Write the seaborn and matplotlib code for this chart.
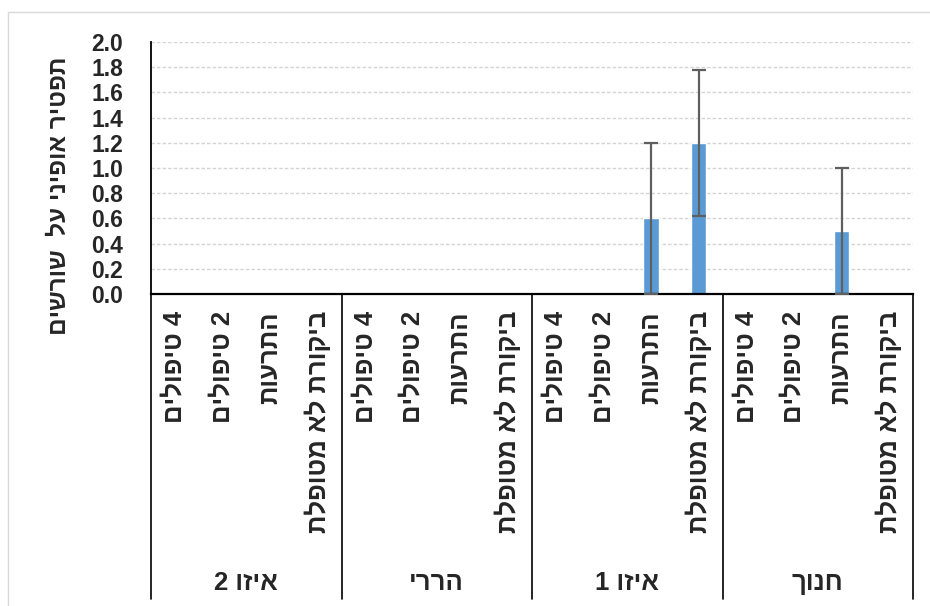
import numpy as np
import pandas as pd
import seaborn as sns
import matplotlib.pyplot as plt
from matplotlib import transforms
from matplotlib.patches import Rectangle

# data (logical Hebrew order)
groups = ['איזו 2', 'הררי', 'איזו 1', 'חנוך']
treatments = ['4 טיפולים', '2 טיפולים', 'התרעות', 'ביקורת לא מטופלת']
values = [0, 0, 0, 0,
          0, 0, 0, 0,
          0, 0, 0.6, 1.2,
          0, 0, 0.5, 0]
errors = [0, 0, 0, 0,
          0, 0, 0, 0,
          0, 0, 0.6, 0.58,
          0, 0, 0.5, 0]
y_label = 'תפטיר אופיני על  שורשים'


def rtl(s):
    # matplotlib has no bidi, so feed the visual order
    return s[::-1]


rows = []
for g in groups:
    for t in treatments:
        rows.append({'group': g, 'treat': t, 'key': g + '|' + t})
df = pd.DataFrame(rows)
df['value'] = values
df['err'] = errors

sns.set_style('white')
plt.rcParams['font.family'] = ['Liberation Sans', 'DejaVu Sans']
plt.rcParams['font.weight'] = 'bold'

W, H = 930, 606
fig = plt.figure(figsize=(W / 100, H / 100), dpi=100)
ax = fig.add_axes([151 / W, 1 - 294 / H, (913 - 151) / W, (294 - 42) / H])

sns.barplot(data=df, x='key', y='value', order=list(df['key']), color='#5B9BD5',
            saturation=1, width=0.32, errorbar=None, ax=ax, zorder=2)

pos = np.arange(len(df))
m = df['err'].values > 0
ax.errorbar(pos[m], df['value'].values[m], yerr=df['err'].values[m], fmt='none',
            ecolor='#5f5f5f', elinewidth=1.6, capsize=4.8, capthick=1.6, zorder=3)

ax.set_xlim(-0.5, len(df) - 0.5)
ax.set_ylim(0, 2.0)
ax.set_yticks(np.arange(0, 2.01, 0.2))
ax.set_yticklabels(['%.1f' % v for v in np.arange(0, 2.01, 0.2)], fontsize=16.5, fontweight='bold')
ax.tick_params(axis='y', direction='out', length=7.2, width=1.2, color='black', pad=13)
ax.set_xticks([])
ax.set_xlabel('')
ax.set_ylabel('')

ax.set_axisbelow(True)
ax.yaxis.grid(True, color='#d4d4d4', linestyle=(0, (2.5, 1.5)), linewidth=1)
for s in ['top', 'right']:
    ax.spines[s].set_visible(False)
ax.spines['left'].set_color('black')
ax.spines['left'].set_linewidth(1.3)
ax.spines['bottom'].set_color('black')
ax.spines['bottom'].set_linewidth(1.6)

# multi-level category axis
blend = transforms.blended_transform_factory(ax.transData, fig.transFigure)
for i, t in enumerate(df['treat']):
    ax.text(i, 1 - 311 / H, rtl(t), rotation=90, ha='center', va='top',
            fontsize=18.5, fontweight='bold', transform=blend)
for j, g in enumerate(groups):
    ax.text(4 * j + 1.5, 1 - 583 / H, rtl(g), ha='center', va='center',
            fontsize=18.5, fontweight='bold', transform=blend)
for b in np.arange(-0.5, len(df), 4):
    ax.plot([b, b], [1 - 294 / H, 1 - 599 / H], color='black', lw=1.2,
            transform=blend, clip_on=False)

fig.text(59 / W, 1 - 196 / H, rtl(y_label), rotation=90, ha='center', va='center',
         fontsize=17.6, fontweight='bold')

fig.patches.append(Rectangle((8 / W, -0.1), 1, 1.1 - 12 / H, transform=fig.transFigure,
                             fill=False, edgecolor='#d9d9d9', lw=1))

fig.savefig('out.png', dpi=100)
